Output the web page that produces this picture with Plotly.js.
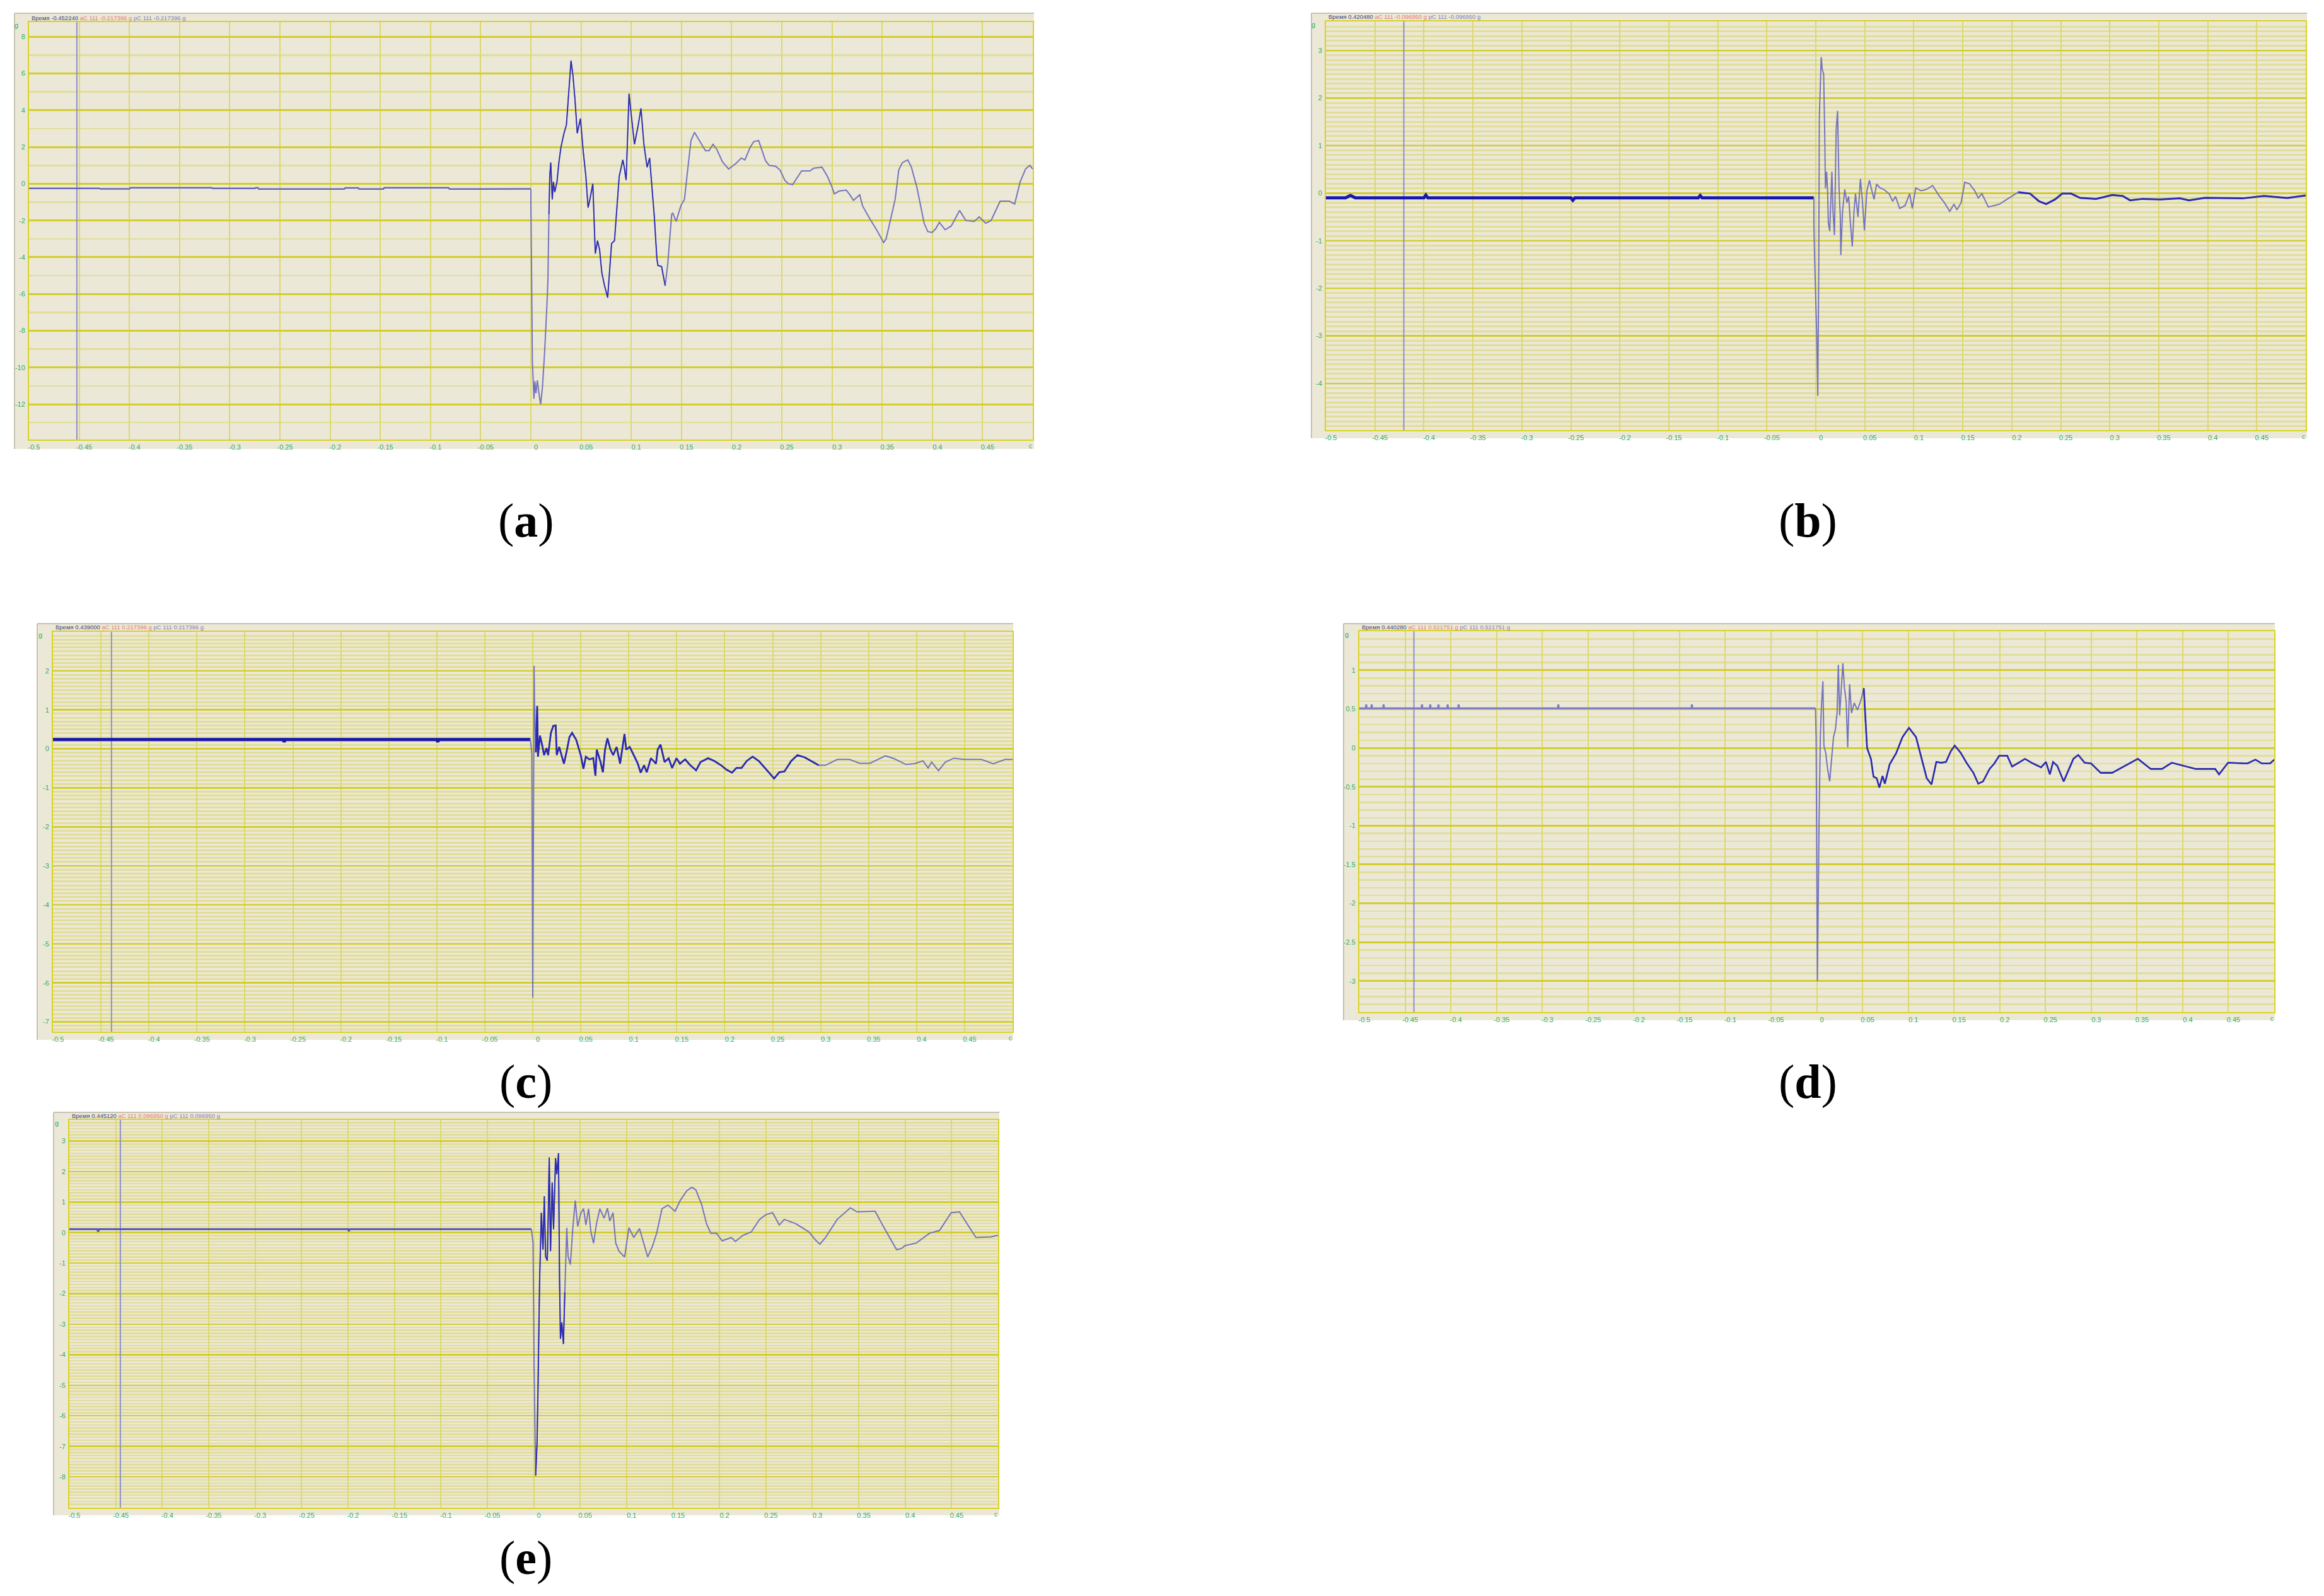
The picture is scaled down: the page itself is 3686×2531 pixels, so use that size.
<!DOCTYPE html>
<html>
<head>
<meta charset="utf-8">
<title>Acceleration records</title>
<script src="https://cdn.plot.ly/plotly-3.0.1.min.js"></script>
<style>
  html, body { margin: 0; padding: 0; background: #fff; }
</style>
</head>
<body>
<div id="chart"></div>
<script>
// x axis is shared by all five records
const timeTicks = [-0.5,-0.45,-0.4,-0.35,-0.3,-0.25,-0.2,-0.15,-0.1,-0.05,0,0.05,0.1,0.15,0.2,0.25,0.3,0.35,0.4,0.45];
const timeLabels = ["-0.5","-0.45","-0.4","-0.35","-0.3","-0.25","-0.2","-0.15","-0.1","-0.05","0","0.05","0.1","0.15","0.2","0.25","0.3","0.35","0.4","0.45"];

// (a)
const aTicks = [8,6,4,2,0,-2,-4,-6,-8,-10,-12];
const aBaseTime = [-0.5,-0.43,-0.429,-0.4,-0.399,-0.318,-0.317,-0.275,-0.274,-0.272,-0.271,-0.186,-0.185,-0.172,-0.171,-0.147,-0.146,-0.082,-0.081,0];
const aBaseValue = [-0.25,-0.25,-0.28,-0.28,-0.22,-0.22,-0.25,-0.25,-0.22,-0.22,-0.29,-0.29,-0.23,-0.23,-0.29,-0.29,-0.22,-0.22,-0.29,-0.28];
const aTime = [0,0,0.0007,0.0015,0.003,0.004,0.005,0.0065,0.008,0.0097,0.0115,0.0137,0.016,0.017,0.018,0.0188,0.0198,0.0213,0.0224,0.0238,0.026,0.028,0.03,0.033,0.0354,0.0375,0.04,0.042,0.044,0.0462,0.0494,0.052,0.0548,0.057,0.059,0.0617,0.063,0.0642,0.0664,0.0685,0.0707,0.0732,0.0765,0.0783,0.0804,0.0833,0.0859,0.088,0.0916,0.093,0.0949,0.096,0.0978,0.1003,0.1032,0.1068,0.1097,0.1126,0.1158,0.1183,0.1205,0.123,0.1255,0.1266,0.1302,0.132,0.1338,0.1364,0.1385,0.1403,0.1414,0.1447,0.1494,0.153,0.1562,0.1595,0.163,0.168,0.1739,0.1775,0.1815,0.1854,0.1908,0.197,0.2042,0.2096,0.2132,0.2186,0.2222,0.2269,0.2302,0.2338,0.2374,0.2439,0.2482,0.2529,0.2565,0.2608,0.2655,0.2698,0.2781,0.2817,0.29,0.2955,0.2998,0.3023,0.307,0.3142,0.3178,0.3214,0.3276,0.3304,0.3376,0.3449,0.3514,0.3539,0.3575,0.3629,0.3665,0.3701,0.3755,0.3791,0.3846,0.3882,0.3918,0.3954,0.3997,0.4033,0.4069,0.4127,0.4188,0.4271,0.4333,0.4416,0.4466,0.4531,0.4585,0.4675,0.4766,0.482,0.4874,0.4928,0.4971,0.5];
const aValue = [-0.3,-1,-4.85,-9.64,-11.7,-10.75,-11.4,-10.7,-11.4,-12,-11.1,-9.15,-6.6,-5.2,-1.65,0.4,1.15,-0.85,0.1,-0.45,0.1,1.2,2,2.75,3.2,4.7,6.7,5.85,4.55,2.75,3.55,1.85,0.4,-1.3,-0.8,0,-2.15,-3.8,-3.1,-3.6,-4.85,-5.5,-6.2,-4.7,-3.25,-3.1,-1,0.4,1.3,0.9,0.2,2.3,4.9,3.6,2.15,3.15,4.1,2.15,0.9,1.4,0,-1.8,-4.05,-4.45,-4.5,-5,-5.55,-4.35,-2.75,-1.65,-1.6,-2.05,-1.2,-0.85,0.75,2.35,2.8,2.35,1.8,1.8,2.15,1.85,1.2,0.8,1.1,1.4,1.3,2,2.3,2.35,1.85,1.25,1,0.95,0.75,0.2,0,-0.05,0.35,0.7,0.7,0.85,0.9,0.4,-0.15,-0.55,-0.4,-0.35,-0.6,-0.9,-0.6,-1.2,-1.9,-2.55,-3.2,-3,-2.15,-0.85,0.75,1.15,1.3,0.9,-0.2,-1.2,-2.15,-2.6,-2.65,-2.45,-2.1,-2.5,-2.3,-1.45,-2,-2.05,-1.8,-2.15,-2,-0.95,-0.95,-1.1,0.1,0.8,1,0.8];

// (b)
const bTicks = [3,2,1,0,-1,-2,-3,-4];
const bBaseTime = [-0.5,-0.48,-0.475,-0.47,-0.4,-0.398,-0.396,-0.25,-0.248,-0.246,-0.12,-0.118,-0.116,-0.002];
const bBaseValue = [-0.1,-0.1,-0.05,-0.1,-0.1,-0.04,-0.1,-0.1,-0.15,-0.1,-0.1,-0.05,-0.1,-0.1];
const bTime = [-0.002,-0.002,-0.001,0.001,0.002,0.003,0.0036,0.0055,0.0066,0.008,0.009,0.0098,0.011,0.012,0.0128,0.0142,0.0164,0.0175,0.019,0.0208,0.0222,0.0237,0.025,0.0255,0.0273,0.0295,0.0317,0.0335,0.0353,0.0372,0.039,0.0405,0.043,0.0455,0.0474,0.0496,0.0521,0.0547,0.0565,0.0594,0.062,0.0656,0.0692,0.0747,0.0784,0.0813,0.0856,0.0911,0.0958,0.0984,0.102,0.1075,0.113,0.1192,0.1257,0.1312,0.1367,0.141,0.144,0.1483,0.152,0.1567,0.1622,0.1658,0.1695,0.176,0.1822,0.1877,0.195,0.2066,0.2187,0.2278,0.2351,0.2442,0.2515,0.2606,0.2697,0.2861,0.2952,0.3025,0.3134,0.3207,0.3335,0.3517,0.3717,0.3808,0.3972,0.4355,0.4574,0.4811,0.5];
const bValue = [-0.1,-0.66,-1.55,-3.04,-4.26,-1.55,1.6,2.86,2.6,2.5,1.35,0.1,0.45,0.05,-0.63,-0.8,0.45,-0.38,-0.88,1.35,1.73,0.1,-0.5,-1.3,-0.38,0.08,-0.2,-0.07,-0.63,-1.12,-0.38,-0.01,-0.5,0.3,-0.13,-0.78,0.05,0.27,0.11,-0.13,0.19,0.11,0.08,-0.01,-0.17,-0.07,-0.32,-0.26,-0.01,-0.32,0.11,0.05,0.08,0.16,-0.05,-0.2,-0.38,-0.23,-0.35,-0.2,0.23,0.2,0.05,-0.1,-0.01,-0.29,-0.26,-0.23,-0.13,0.02,-0.01,-0.17,-0.23,-0.13,-0.01,-0.01,-0.1,-0.12,-0.07,-0.04,-0.06,-0.15,-0.12,-0.13,-0.11,-0.15,-0.1,-0.11,-0.06,-0.1,-0.05];

// (c)
const cTicks = [2,1,0,-1,-2,-3,-4,-5,-6,-7];
const cBaseTime = [-0.5,-0.26,-0.259,-0.258,-0.14,-0.1,-0.099,-0.098,-0.05,-0.0025];
const cBaseValue = [0.24,0.24,0.18,0.24,0.24,0.24,0.18,0.24,0.24,0.24];
const cTime = [-0.0025,-0.001,0,0.0014,0.0018,0.0032,0.0046,0.0054,0.0075,0.0096,0.0118,0.0143,0.016,0.0189,0.0214,0.0239,0.025,0.0275,0.0296,0.0325,0.0357,0.0382,0.041,0.0453,0.05,0.0528,0.0553,0.0589,0.0631,0.0653,0.0667,0.0703,0.0731,0.0753,0.0778,0.081,0.0838,0.0874,0.091,0.0938,0.0956,0.0974,0.101,0.1052,0.1095,0.1124,0.116,0.1188,0.1231,0.1284,0.1302,0.1331,0.1374,0.1416,0.1452,0.1498,0.1534,0.1588,0.1641,0.1702,0.1748,0.1827,0.1891,0.1962,0.2016,0.2076,0.2123,0.2176,0.223,0.2291,0.2355,0.2444,0.2515,0.2569,0.2622,0.2694,0.2758,0.2836,0.2908,0.2979,0.305,0.3175,0.33,0.3407,0.3514,0.3675,0.3764,0.3889,0.3978,0.4067,0.412,0.4156,0.4228,0.4299,0.4388,0.4495,0.4674,0.4799,0.4923,0.5];
const cValue = [0.24,-0.13,-6.38,2.13,1.2,-0.09,1.1,-0.2,0.34,0.12,-0.16,0.02,-0.16,0.41,0.59,0.6,-0.16,0.05,-0.13,-0.38,-0.02,0.3,0.41,0.23,-0.16,-0.51,-0.2,-0.27,-0.24,-0.69,-0.02,-0.31,-0.6,-0.02,0.27,-0.02,-0.16,0.05,-0.38,0.05,0.38,-0.02,0.05,-0.16,-0.38,-0.61,-0.42,-0.6,-0.24,-0.38,-0.02,0.11,-0.34,-0.24,-0.49,-0.24,-0.38,-0.27,-0.42,-0.55,-0.34,-0.24,-0.31,-0.42,-0.53,-0.61,-0.49,-0.49,-0.31,-0.2,-0.31,-0.56,-0.76,-0.6,-0.58,-0.31,-0.16,-0.22,-0.32,-0.42,-0.42,-0.27,-0.27,-0.37,-0.37,-0.18,-0.25,-0.4,-0.38,-0.31,-0.49,-0.34,-0.56,-0.34,-0.24,-0.27,-0.27,-0.38,-0.27,-0.27];

// (d)
const dTicks = [1,0.5,0,-0.5,-1,-1.5,-2,-2.5,-3];
const dBaseTime = [-0.5,-0.493,-0.4925,-0.492,-0.487,-0.4865,-0.486,-0.474,-0.4735,-0.473,-0.432,-0.4315,-0.431,-0.423,-0.4225,-0.422,-0.414,-0.4135,-0.413,-0.404,-0.4035,-0.403,-0.392,-0.3915,-0.391,-0.283,-0.2825,-0.282,-0.137,-0.1365,-0.136,-0.0014];
const dBaseValue = [0.51,0.51,0.56,0.51,0.51,0.56,0.51,0.51,0.56,0.51,0.51,0.56,0.51,0.51,0.56,0.51,0.51,0.56,0.51,0.51,0.56,0.51,0.51,0.56,0.51,0.51,0.56,0.51,0.51,0.56,0.51,0.51];
const dTime = [-0.0014,-0.0007,0.0007,0.0014,0.0025,0.0039,0.005,0.0067,0.0078,0.0099,0.0116,0.0141,0.0162,0.0183,0.0204,0.0222,0.0236,0.025,0.0285,0.0303,0.0321,0.0338,0.0359,0.038,0.0409,0.0444,0.0479,0.0514,0.0532,0.055,0.0592,0.062,0.0655,0.0684,0.0719,0.0744,0.0797,0.0867,0.0937,0.1008,0.1085,0.1149,0.1202,0.1254,0.1307,0.136,0.1413,0.1466,0.1508,0.1572,0.1642,0.1712,0.1765,0.1818,0.1889,0.1941,0.1994,0.2082,0.2135,0.2206,0.2276,0.2364,0.2452,0.2505,0.2548,0.2583,0.2629,0.2699,0.2805,0.2858,0.2928,0.2999,0.3104,0.3228,0.3369,0.351,0.3651,0.3774,0.388,0.4003,0.4144,0.4355,0.4397,0.4496,0.4707,0.4795,0.4866,0.4954,0.5];
const dValue = [0.51,0.14,-3,-1.94,-0.95,0.14,0.51,0.86,0.03,-0.07,-0.25,-0.43,-0.14,0.14,0.24,0.45,1.07,0.42,1.09,0.77,0.6,0.01,0.82,0.45,0.58,0.49,0.6,0.77,0.35,0,-0.14,-0.37,-0.39,-0.51,-0.36,-0.46,-0.21,-0.07,0.14,0.26,0.14,-0.14,-0.39,-0.47,-0.18,-0.19,-0.18,-0.04,0.03,-0.06,-0.2,-0.32,-0.46,-0.43,-0.27,-0.2,-0.1,-0.1,-0.24,-0.19,-0.14,-0.2,-0.25,-0.18,-0.34,-0.18,-0.23,-0.43,-0.14,-0.09,-0.19,-0.2,-0.32,-0.32,-0.23,-0.14,-0.27,-0.27,-0.19,-0.23,-0.27,-0.27,-0.34,-0.19,-0.2,-0.15,-0.2,-0.2,-0.15];

// (e)
const eTicks = [3,2,1,0,-1,-2,-3,-4,-5,-6,-7,-8];
const eBaseTime = [-0.5,-0.47,-0.469,-0.468,-0.2,-0.199,-0.198,-0.0025];
const eBaseValue = [0.11,0.11,0.03,0.11,0.11,0.05,0.11,0.11];
const eTime = [-0.0025,-0.0007,0.0004,0.0014,0.0021,0.0036,0.0046,0.0057,0.0064,0.0075,0.0082,0.01,0.0114,0.0128,0.0146,0.0157,0.0167,0.0181,0.0199,0.0214,0.0235,0.0249,0.0267,0.0278,0.0288,0.0302,0.032,0.0335,0.0356,0.037,0.0395,0.042,0.0448,0.0473,0.0509,0.0537,0.0562,0.0591,0.0616,0.0644,0.0676,0.0712,0.0758,0.0794,0.0819,0.0854,0.0883,0.0918,0.0979,0.1025,0.1078,0.1139,0.1185,0.1228,0.1281,0.1327,0.1381,0.1445,0.1523,0.1577,0.1648,0.1701,0.1744,0.1808,0.1861,0.1907,0.1968,0.2028,0.2128,0.2171,0.2253,0.2342,0.2431,0.2502,0.2573,0.2644,0.2698,0.2822,0.2964,0.3036,0.3082,0.3142,0.3267,0.3409,0.348,0.3676,0.3765,0.3907,0.3961,0.3996,0.4121,0.4263,0.437,0.4495,0.4584,0.4762,0.4922,0.5];
const eValue = [0.11,-0.34,-4.37,-6.35,-7.96,-6.88,-5.27,-2.76,-1.5,-0.25,0.65,-0.56,1.19,-0.78,-0.92,0.65,2.46,-0.61,1.64,0.11,2.44,1.91,2.6,-1.5,-3.48,-2.94,-3.65,-1.95,0.16,-0.78,-1.05,0.11,1.05,0.2,0.65,0.78,0.25,0.78,0.02,-0.35,0.29,0.78,0.47,0.8,0.38,0.65,-0.34,-0.61,-0.8,0.16,-0.16,0.13,-0.34,-0.8,-0.43,0.02,0.78,0.9,0.7,1.05,1.37,1.48,1.41,0.92,0.29,-0.02,-0.02,-0.27,-0.16,-0.29,-0.09,0.02,0.43,0.59,0.65,0.25,0.43,0.29,0.02,-0.25,-0.38,-0.16,0.43,0.81,0.68,0.7,0.2,-0.56,-0.52,-0.43,-0.34,-0.02,0.07,0.65,0.68,-0.16,-0.14,-0.09];

const W = 3686, H = 2531;
const bg = "#ece8d7";
const gridMajor = "#d2ce2c";
const gridMinor = "#e2de9a";
const gridTime = "#dcd870";
const frame = "#d8d224";
const tickGreen = "#2fae5e";

const panels = [
  { tag: "a", head: ["Время -0.452240", "аС 111 -0.217396 g", "рС 111 -0.217396 g"], cursor: -0.4523,
    outer: [23,21,1640,712], plot: [46,35,1638,697], yr: [-13.92,8.8], ticks: aTicks, minor: 1, majorW: 3, minorW: 2.5,
    baseT: aBaseTime, baseV: aBaseValue, t: aTime, v: aValue, baseW: 2.5, baseC: "#6666b8", hi: [0.018,0.135], hiW: 1.6,
    label: [834,825] },
  { tag: "b", head: ["Время 0.420480", "аС 111 -0.096950 g", "рС 111 -0.096950 g"], cursor: -0.4205,
    outer: [2080,21,3659,695], plot: [2103,34,3657,682], yr: [-4.98,3.61], ticks: bTicks, minor: 0.1, majorW: 2.5, minorW: 3,
    baseT: bBaseTime, baseV: bBaseValue, t: bTime, v: bValue, baseW: 5, baseC: "#1818b0", hi: [0.2,0.5], hiW: 3,
    label: [2867,825] },
  { tag: "c", head: ["Время 0.439000", "аС 111 0.217396 g", "рС 111 0.217396 g"], cursor: -0.439,
    outer: [59,989,1607,1649], plot: [84,1002,1606,1636], yr: [-7.25,3], ticks: cTicks, minor: 0.1, majorW: 2.5, minorW: 3,
    baseT: cBaseTime, baseV: cBaseValue, t: cTime, v: cValue, baseW: 5, baseC: "#1818b0", hi: [0.003,0.3], hiW: 2.8,
    label: [834,1716] },
  { tag: "d", head: ["Время 0.440280", "аС 111 0.521751 g", "рС 111 0.521751 g"], cursor: -0.4403,
    outer: [2131,989,3608,1618], plot: [2156,1001,3607,1605], yr: [-3.4,1.503], ticks: dTicks, minor: 0.1, majorW: 3, minorW: 2.5,
    baseT: dBaseTime, baseV: dBaseValue, t: dTime, v: dValue, baseW: 3, baseC: "#7a7ac8", hi: [0.05,0.5], hiW: 2.6,
    label: [2867,1716] },
  { tag: "e", head: ["Время 0.445120", "аС 111 0.096950 g", "рС 111 0.096950 g"], cursor: -0.4451,
    outer: [85,1764,1585,2403], plot: [110,1776,1583,2391], yr: [-9.01,3.69], ticks: eTicks, minor: 0.1, majorW: 2.5, minorW: 2.5,
    baseT: eBaseTime, baseV: eBaseValue, t: eTime, v: eValue, baseW: 3, baseC: "#5252b8", hi: [0.002,0.035], hiW: 1.8,
    label: [834,2470] }
];

const traces = [];
const layout = {
  width: W, height: H, margin: { l: 0, r: 0, t: 0, b: 0 },
  paper_bgcolor: "#ffffff", plot_bgcolor: bg, showlegend: false,
  font: { family: "Liberation Sans, sans-serif", color: tickGreen, size: 11 },
  shapes: [], annotations: []
};
const px = x => x / W;
const py = y => 1 - y / H;

panels.forEach((p, i) => {
  const n = i === 0 ? "" : String(i + 1);
  const xa = "x" + n, ya = "y" + n;

  layout["xaxis" + n] = {
    domain: [px(p.plot[0]), px(p.plot[2])], range: [-0.5, 0.5], anchor: ya,
    tickmode: "array", tickvals: timeTicks, ticktext: timeLabels,
    showgrid: true, gridcolor: gridTime, gridwidth: 2, zeroline: false,
    showline: true, mirror: true, linecolor: frame, linewidth: 2,
    ticks: "", ticklabelshift: 8, ticklabelstandoff: 1,
    tickfont: { size: 11, color: tickGreen, family: "Liberation Sans, sans-serif" }
  };
  layout["yaxis" + n] = {
    domain: [py(p.plot[3]), py(p.plot[1])], range: p.yr, anchor: xa,
    tickmode: "array", tickvals: p.ticks, ticktext: p.ticks.map(String),
    showgrid: true, gridcolor: gridMajor, gridwidth: p.majorW, zeroline: false,
    minor: { dtick: p.minor, tick0: 0, showgrid: true, gridcolor: gridMinor, gridwidth: p.minorW, ticks: "" },
    showline: true, mirror: true, linecolor: frame, linewidth: 2,
    ticks: "", ticklabelstandoff: 2,
    tickfont: { size: 11, color: tickGreen, family: "Liberation Sans, sans-serif" }
  };

  // window chrome of the recorder program
  layout.shapes.push({ type: "rect", xref: "paper", yref: "paper", layer: "below",
    x0: px(p.outer[0]), x1: px(p.outer[2]), y0: py(p.outer[3]), y1: py(p.outer[1]),
    fillcolor: bg, line: { width: 0 } });
  layout.shapes.push({ type: "line", xref: "paper", yref: "paper", layer: "below",
    x0: px(p.outer[0]), x1: px(p.outer[2]), y0: py(p.outer[1]), y1: py(p.outer[1]),
    line: { color: "#c6c2b2", width: 2 } });
  layout.shapes.push({ type: "line", xref: "paper", yref: "paper", layer: "below",
    x0: px(p.outer[0]), x1: px(p.outer[0]), y0: py(p.outer[3]), y1: py(p.outer[1]),
    line: { color: "#c6c2b2", width: 2 } });

  traces.push({ x: [p.cursor, p.cursor], y: p.yr, xaxis: xa, yaxis: ya, mode: "lines",
    line: { color: "#8e8ecb", width: 2 }, hoverinfo: "skip" });
  traces.push({ x: p.baseT, y: p.baseV, xaxis: xa, yaxis: ya, mode: "lines",
    line: { color: p.baseC, width: p.baseW }, hoverinfo: "skip" });
  traces.push({ x: p.t, y: p.v, xaxis: xa, yaxis: ya, mode: "lines",
    line: { color: "#7474bc", width: 2 }, hoverinfo: "skip" });

  // the darker stretch of the same record
  const hx = [], hy = [];
  p.t.forEach((t, k) => { if (t >= p.hi[0] && t <= p.hi[1]) { hx.push(t); hy.push(p.v[k]); } });
  traces.push({ x: hx, y: hy, xaxis: xa, yaxis: ya, mode: "lines",
    line: { color: "#2a2ab0", width: p.hiW }, hoverinfo: "skip" });

  layout.annotations.push({
    xref: "paper", yref: "paper", x: px(p.plot[0] + 2), y: py(p.plot[1] - 7),
    xanchor: "left", yanchor: "middle", showarrow: false,
    font: { size: 9.5, family: "Liberation Sans, sans-serif" },
    text: `<span style="color:#45457a">${p.head[0]}</span> <span style="color:#e87878">${p.head[1]}</span> <span style="color:#7f7fc4">${p.head[2]}</span>`
  });
  layout.annotations.push({
    xref: "paper", yref: "paper", x: px(p.plot[0] - 20), y: py(p.plot[1] + 5),
    xanchor: "center", yanchor: "middle", showarrow: false,
    font: { size: 11, color: tickGreen }, text: "g"
  });
  layout.annotations.push({
    xref: "paper", yref: "paper", x: px(p.plot[2] - 4), y: py(p.plot[3] + 10),
    xanchor: "center", yanchor: "middle", showarrow: false,
    font: { size: 10, color: tickGreen }, text: "с"
  });
  layout.annotations.push({
    xref: "paper", yref: "paper", x: px(p.label[0]), y: py(p.label[1]),
    xanchor: "center", yanchor: "middle", showarrow: false,
    font: { size: 76, color: "#000000", family: "Liberation Serif, serif" },
    text: `(<b>${p.tag}</b>)`
  });
});

Plotly.newPlot("chart", traces, layout, { displayModeBar: false, staticPlot: true });
</script>
</body>
</html>
